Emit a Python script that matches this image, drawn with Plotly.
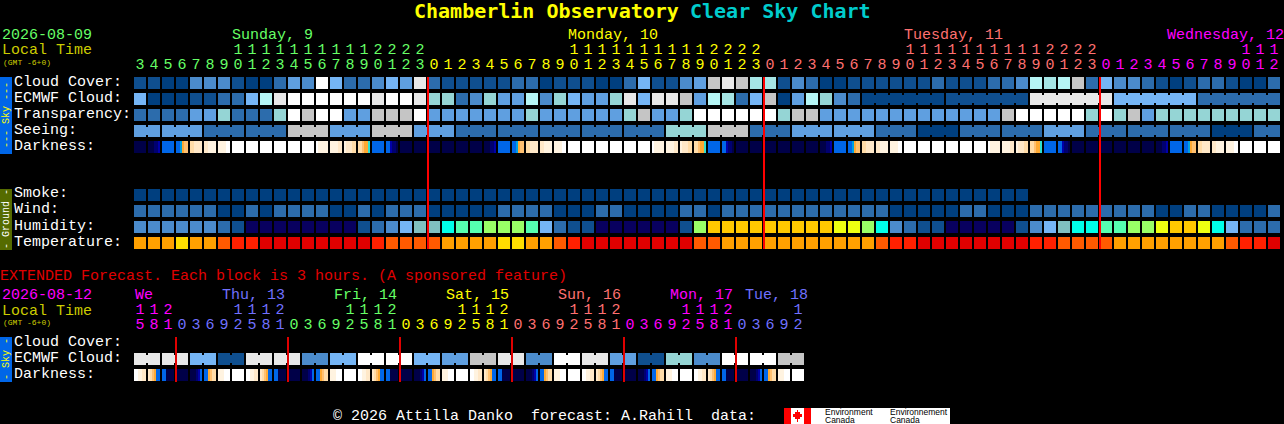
import plotly.graph_objects as go

W, H = 1284, 424
FONT = "Liberation Mono"
TITLE_FONT = "DejaVu Sans Mono"

# ---------- data: one code per block, a space ends a run of linked blocks ----------
cloud_cover = "bbaadddbaacedlfccdfek" "cbbbbbccabbbaacfbbdejkjh" "hbdcaabbbbbbcbbbccdihijc" "fddcbabccbaac"
ecmwf_cloud = ("f a a a b b c c f i k l l l l l l k l l k "
               "g g c d g e e i d g f e e g k f k k j e i h c f "
               "j a e i g d c zzzzzz bbbbbb kkkkkk ffffff cccccc")
transparency = "cccceegcccgljlleejjjl" "eeeeeeegeeeeeegjeeglllll" "lgjjeee" "eeeeeeeeee" "jlllllg" "lgjeggggggggg"
seeing = ("ee eee ccc ccc jjj eee jjj eee ccc ccc ccc ccc ccc ggg jjj ccc eee eee "
          "ccc aaa ccc ccc eee ccc ccc ccc aaa cc")
smoke = "aaaaaaaaaaaaaaaaaaaaaaaaaaaaaaaaaaaaaaaaaaaaaaaaaaaaaaaaaaaaaaaa"
wind = "ccccccaacaccccaacaccc" "aaaaaccccaaaccaaaaccacccccccccc" "ccaaaaaccaaacccccccccaaccaaaac"
humidity = "ddddddcbnnnnnnnnbcdfq" "qrsstttsfcbbnnnnnnbtvvvvvvvvvuu" "trdcbbnnnnnbdfqrrssttuvvurfccc"
temperature = "oooyoopmmwwwwwwwwmppp" "pooooyyoopmwwwwwwwwppoooooooooo" "opmmwwwwwwwwmmppppoooooooopmmw"
darkness = """000000 000112 333333 334677 889999 99aaaa aaaabb bbbbbb bbbbbb bbbbbb bbbbbb bbbbbb bbbbbb baaaaa aaaa99 a99988 887665 333333 332110 000000 000000
000000 000000 000000 000000 000112 333333 334677 889999 99aaaa aaaabb bbbbbb bbbbbb bbbbbb bbbbbb bbbbbb bbbbbb baaaaa aaaa99 a99988 887665 333333 332110 000000 000000
000000 000000 000000 000000 000112 333333 334677 889999 99aaaa aaaabb bbbbbb bbbbbb bbbbbb bbbbbb bbbbbb bbbbbb baaaaa aaaa99 a99988 887665 333333 332110 000000 000000
000000 000000 000000 000000 000112 333333 334677 889999 99aaaa aaaabb bbbbbb bbbbbb bbbbbb""".split()

ext_ecmwf = "kk kk ff bb kk kk dd ff ll ll ff ee jj kk dd ll kk ee bb gg dd ll ll jj"
ext_darkness = """bbaa99 987633 330000 000000 000123 336788 aaabbb bbbbbb
bbaa99 987633 330000 000000 000123 336788 aaabbb bbbbbb
bbaa99 987633 330000 000000 000123 336788 aaabbb bbbbbb
bbaa99 987633 330000 000000 000123 336788 aaabbb bbbbbb
bbaa99 987633 330000 000000 000123 336788 aaabbb bbbbbb
bbaa99 987633 330000 000000 000123 336788 aaabbb bbbbbb""".split()

midnights = [21, 45, 69]
ext_midnights = [3, 11, 19, 27, 35, 43]

# (colour, low digits, high digits)
GREEN, YEL, PINK, MAG, BLUE = "#66ff66", "#ffff00", "#ff7070", "#ff00ff", "#7070ff"
main_days = [
    (GREEN, "345678901234567890123", "       11111111112222"),
    (YEL, "012345678901234567890123", "          11111111112222"),
    (PINK, "012345678901234567890123", "          11111111112222"),
    (MAG, "0123456789012", "          111"),
]
ext_days = [
    (MAG, "581", "112"),
    (BLUE, "03692581", "    1112"),
    (GREEN, "03692581", "    1112"),
    (YEL, "03692581", "    1112"),
    (PINK, "03692581", "    1112"),
    (MAG, "03692581", "    1112"),
    (BLUE, "03692", "    1"),
]
main_day_labels = [("Sunday, 9", 232, GREEN), ("Monday, 10", 568, YEL),
                   ("Tuesday, 11", 904, PINK), ("Wednesday, 12", 1167, MAG)]
ext_day_labels = [("We", 135, MAG), ("Thu, 13", 222, BLUE), ("Fri, 14", 334, GREEN),
                  ("Sat, 15", 446, YEL), ("Sun, 16", 558, PINK), ("Mon, 17", 670, MAG),
                  ("Tue, 18", 745, BLUE)]
row_labels = [("Cloud Cover:", 82), ("ECMWF Cloud:", 98), ("Transparency:", 114), ("Seeing:", 130),
              ("Darkness:", 146), ("Smoke:", 194), ("Wind:", 210), ("Humidity:", 226),
              ("Temperature:", 242), ("Cloud Cover:", 342), ("ECMWF Cloud:", 358), ("Darkness:", 374)]

# ---------- palettes ----------
SKY = {"a": "#003F7F", "z": "#054585", "b": "#0F4F8F", "c": "#2C6CAC", "d": "#4B8BCB", "e": "#5F9FE0",
       "f": "#75B5F5", "g": "#95D5D5", "h": "#A5E5E5", "i": "#B5F5F5", "j": "#C5C5C5", "k": "#E8E8E8",
       "l": "#FFFFFF", "n": "#08005F", "q": "#80C0C0", "r": "#00FFEA", "s": "#55FFB0", "t": "#99FF66",
       "u": "#EEFF11", "v": "#FFC800", "o": "#FFA000", "y": "#FFDD00", "p": "#FF5A00", "m": "#FF2000",
       "w": "#E00000"}
DARK = {"0": "#000048", "1": "#000070", "2": "#0000A8", "3": "#0066E8", "4": "#00A0E0", "5": "#30E0D0",
        "6": "#FFAA33", "7": "#FFC070", "8": "#FFDCA8", "9": "#FFE8C8", "a": "#FFF3E0", "b": "#FFFFFF"}
sky_keys, dark_keys = list(SKY), list(DARK)


def discrete(colors):
    n = len(colors)
    out = []
    for i, c in enumerate(colors):
        out += [[i / n, c], [(i + 1) / n, c]]
    return out


# pixel helpers: column units on x, row units on y
def col_of(px):
    return (px - 140) / 14


def row_of(py):
    return (py - 83) / 16


fig = go.Figure()


def add_row(codes, row, linked=False):
    runs = codes.split()
    flat = "".join(runs)
    fig.add_trace(go.Heatmap(x=list(range(len(flat))), y=[row],
                             z=[[sky_keys.index(c) + 0.5 for c in flat]],
                             coloraxis="coloraxis", xgap=2, ygap=4, hoverinfo="skip"))
    if not linked:
        return
    start = 0
    for run in runs:
        if len(run) > 1:
            fig.add_trace(go.Scatter(x=[start, start + len(run) - 1], y=[row, row], mode="lines",
                                     line=dict(color=SKY[run[0]], width=8), hoverinfo="skip"))
        start += len(run)


def add_darkness(cells, row):
    xs, zs = [], []
    for i, cell in enumerate(cells):
        for j, ch in enumerate(cell):
            xs.append(i + (2 * j - 5) / 14)
            zs.append(dark_keys.index(ch) + 0.5)
        xs.append(i + 7 / 14)
        zs.append(None)
    fig.add_trace(go.Heatmap(x=xs, y=[row], z=[zs], coloraxis="coloraxis2", ygap=4, hoverinfo="skip"))


add_row(cloud_cover, 0)
add_row(ecmwf_cloud, 1, linked=True)
add_row(transparency, 2)
add_row(seeing, 3, linked=True)
add_darkness(darkness, 4)
add_row(smoke, 7)
add_row(wind, 8)
add_row(humidity, 9)
add_row(temperature, 10)
add_row(ext_ecmwf, 17.25, linked=True)
add_darkness(ext_darkness, 18.25)

# midnight markers
for m in midnights:
    fig.add_trace(go.Scatter(x=[m - 6 / 14] * 2, y=[row_of(77), row_of(249)], mode="lines",
                             line=dict(color="#ff0000", width=2), hoverinfo="skip"))
for m in ext_midnights:
    fig.add_trace(go.Scatter(x=[m - 6 / 14] * 2, y=[row_of(337), row_of(382)], mode="lines",
                             line=dict(color="#e00000", width=2), hoverinfo="skip"))


# hour digits placed through the same column axis
def add_digits(days, y_low, y_high):
    xs, ys, txt, cols = [], [], [], []
    c = 0
    for color, low, high in days:
        for k, d in enumerate(low):
            xs.append(c)
            ys.append(row_of(y_low))
            txt.append(d)
            cols.append(color)
            if high[k] != " ":
                xs.append(c)
                ys.append(row_of(y_high))
                txt.append(high[k])
                cols.append(color)
            c += 1
    fig.add_trace(go.Scatter(x=xs, y=ys, text=txt, mode="text", textposition="middle center",
                             textfont=dict(family=FONT, size=15, color=cols), hoverinfo="skip"))


add_digits(main_days, 65.5, 50.5)
add_digits(ext_days, 325.5, 310.5)

# ---------- text and decoration in page pixels ----------
ann, shapes = [], []


def text(s, x, y, color="#ffffff", size=15, bold=False, family=FONT, angle=0, anchor="left"):
    if anchor == "left":
        x -= 1
    ann.append(dict(text=f"<b>{s}</b>" if bold else s, x=x / W, y=1 - y / H, xref="paper", yref="paper",
                    xanchor=anchor, yanchor="middle", showarrow=False, textangle=angle, borderpad=0,
                    font=dict(family=family, size=size, color=color)))


def rect(x0, y0, x1, y1, color, layer="above"):
    shapes.append(dict(type="rect", xref="paper", yref="paper", x0=x0 / W, x1=x1 / W,
                       y0=1 - y0 / H, y1=1 - y1 / H, fillcolor=color, line=dict(width=0), layer=layer))


text("Chamberlin Observatory", 414, 11, "#ffff00", 20, True, family=TITLE_FONT)
text("Clear Sky Chart", 690, 11, "#00cccc", 20, True, family=TITLE_FONT)
text("2026-08-09", 2, 35.5, GREEN)
text("Local Time", 2, 51, "#cccc00")
text("(GMT -6+0)", 3, 62, "#cccc00", 8)
for s, x, c in main_day_labels:
    text(s, x, 35.5, c)
for s, y in row_labels:
    text(s, 14, y)
text("EXTENDED Forecast. Each block is 3 hours. (A sponsored feature)", 0, 276.5, "#e00000")
text("2026-08-12", 2, 295.5, MAG)
text("Local Time", 2, 311, "#cccc00")
text("(GMT -6+0)", 3, 322, "#cccc00", 8)
for s, x, c in ext_day_labels:
    text(s, x, 295.5, c)
text("© 2026 Attilla Danko\u00a0\u00a0forecast: A.Rahill\u00a0\u00a0data:", 333, 416, "#ffffff")

rect(0, 77, 12, 154, "#0066E8")
rect(0, 189, 12, 250, "#556B00")
rect(0, 337, 12, 382, "#0066E8")
text("--- Sky ---", 6, 115, "#ffff00", 10, angle=-90, anchor="center")
text("- Ground -", 6, 219, "#ffffff", 10, angle=-90, anchor="center")
text("- Sky -", 6, 359, "#ffff00", 10, angle=-90, anchor="center")

# Environment Canada logo
rect(784, 408, 950, 424, "#ffffff")
rect(784, 408, 791, 424, "#ff0000")
rect(804, 408, 811, 424, "#ff0000")
rect(795, 412, 800, 419, "#ff0000")
rect(797, 410, 798, 422, "#ff0000")
rect(793, 414, 802, 417, "#ff0000")
text("Environment", 825, 412, "#000000", 8.5, family="Liberation Sans")
text("Canada", 825, 420, "#000000", 8.5, family="Liberation Sans")
text("Environnement", 890, 412, "#000000", 8.5, family="Liberation Sans")
text("Canada", 890, 420, "#000000", 8.5, family="Liberation Sans")

fig.update_layout(
    width=W, height=H, margin=dict(l=0, r=0, t=0, b=0), showlegend=False,
    paper_bgcolor="#000000", plot_bgcolor="#000000", annotations=ann, shapes=shapes,
    xaxis=dict(visible=False, range=[col_of(0), col_of(W)], fixedrange=True),
    yaxis=dict(visible=False, range=[row_of(H), row_of(0)], fixedrange=True),
    coloraxis=dict(colorscale=discrete(list(SKY.values())), cmin=0, cmax=len(SKY), showscale=False),
    coloraxis2=dict(colorscale=discrete(list(DARK.values())), cmin=0, cmax=len(DARK), showscale=False),
)

fig.write_html("out.html", config={"displayModeBar": False},
               post_script="document.body.style.margin='0';document.body.style.background='#000';"
                           "document.body.style.overflow='hidden';")
